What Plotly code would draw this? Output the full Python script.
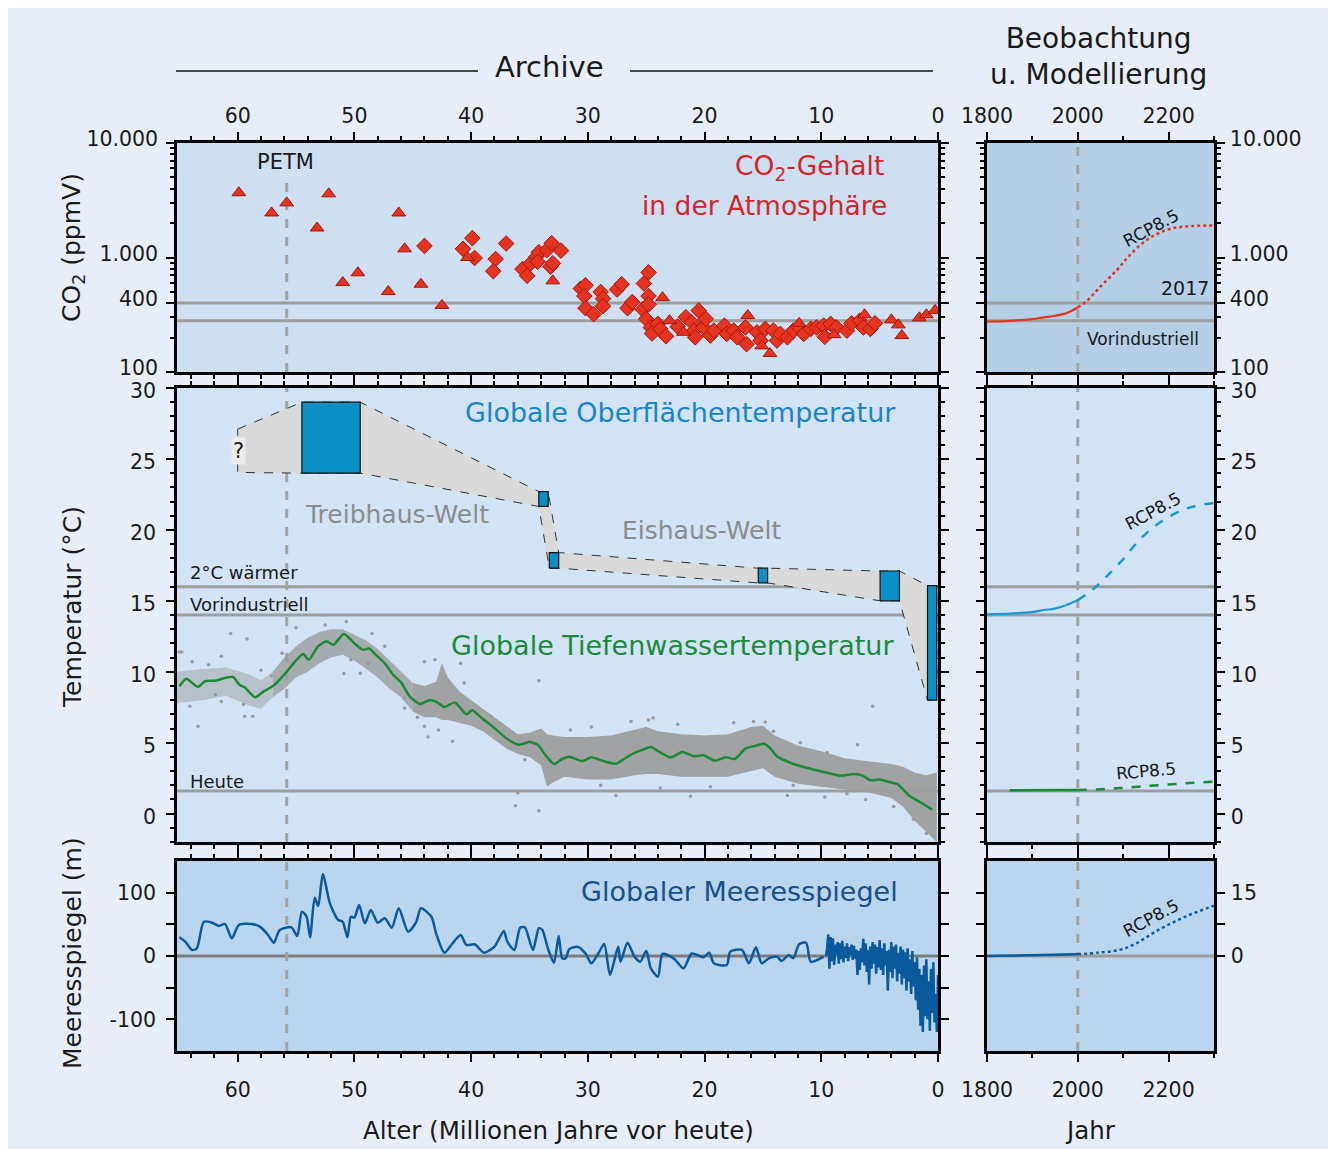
import plotly.graph_objects as go

# figure is placed by the page with an 8 px body margin
OFF = 8
W, H = 1322, 1141
FONT = "DejaVu Sans"


def px(x):
    return (x - OFF) / W


def py(y):
    return 1 - (y - OFF) / H


# ---------------- DATA ----------------
# CO2 proxies (age in Ma, ppmV)
co2_tri_age = [59.9, 57.1, 55.8, 52.2, 53.2, 51.0, 49.7, 47.1, 46.2, 45.7, 44.3, 42.5, 40.3, 33.0,
               23.6, 23.0, 21.8, 16.3, 15.1, 14.4, 11.9, 8.9, 6.3, 4.0, 3.4, 3.1, 1.6, 1.0, 0.25]
co2_tri_ppm = [3680, 2450, 3000, 3600, 1810, 604, 735, 504, 2450, 1190, 584, 381, 1000, 625,
               446, 281, 222, 311, 169, 145, 266, 212, 316, 285, 258, 208, 297, 316, 345]
co2_dia_age = [44.0, 40.7, 39.9, 39.7, 37.9, 38.1, 37.0, 35.6, 35.2, 34.9, 34.4, 34.2, 33.5, 33.1,
               33.2, 33.0, 32.3, 34.3, 30.6, 30.2, 30.3, 30.2, 29.5, 28.9, 28.7, 28.7, 27.5, 27.1,
               26.6, 26.2, 25.3, 25.2, 24.8, 24.8, 24.8, 25.0, 24.6, 24.5, 24.0, 23.8, 23.3, 22.3,
               21.6, 21.1, 20.5, 20.9, 20.8, 20.1, 19.9, 19.5, 19.2, 18.3, 18.1, 17.5, 17.2, 16.5,
               16.4, 15.5, 15.2, 14.8, 14.1, 13.8, 13.5, 12.9, 12.4, 11.9, 11.5, 10.9, 10.4, 9.8,
               9.7, 9.2, 8.7, 7.8, 7.4, 6.7, 6.4, 5.8, 5.4]
co2_dia_ppm = [1262, 1190, 1476, 990, 970, 760, 1324, 792, 692, 889, 1016, 1112, 1164, 1334,
               830, 889, 1148, 918, 535, 572, 461, 361, 320, 500, 437, 376, 525, 584,
               361, 408, 352, 593, 741, 461, 389, 291, 245, 217, 263, 238, 205, 249,
               301, 272, 344, 230, 201, 245, 291, 208, 230, 254, 215, 230, 201, 245,
               175, 222, 188, 238, 230, 188, 215, 201, 230, 245, 215, 238, 245, 254,
               203, 263, 245, 230, 266, 281, 245, 238, 266]

# reference levels
co2_levels = [400, 280]          # 2017, pre-industrial
temp_levels = [16.0, 14.0]       # 2 deg warmer, pre-industrial
deep_today = 1.6                 # deep water today
petm_age = 55.8
now_year = 2000

# Surface temperature (boxes and envelope)
box_age_old = [54.5, 34.2, 33.3, 15.4, 4.96, 0.9]
box_age_young = [49.5, 33.4, 32.5, 14.6, 3.3, 0.1]
box_t_low = [24.0, 21.65, 17.3, 16.26, 15.0, 8.0]
box_t_high = [29.0, 22.7, 18.4, 17.3, 17.1, 16.07]
poly_age = [60.0, 54.5, 49.5, 34.2, 33.4, 32.5, 15.4, 14.6, 4.96, 3.3, 0.9, 0.1, 0.1, 0.9,
            3.3, 4.96, 14.6, 15.4, 32.5, 33.3, 34.2, 49.5, 54.5, 60.0, 60.0]
poly_t = [27.1, 29.0, 29.0, 22.7, 22.7, 18.4, 17.3, 17.3, 17.1, 17.1, 16.07, 16.07, 8.0, 8.0,
          15.0, 15.0, 16.26, 16.26, 17.3, 17.3, 21.65, 24.0, 24.0, 24.05, 27.1]

# Deep-water temperature (smoothed curve)
deep_age = [65.0, 64.4, 63.4, 62.8, 61.9, 61.1, 60.4, 59.8, 59.4, 58.5, 57.8, 56.9, 55.9, 55.1,
            54.4, 53.9, 53.1, 52.4, 51.8, 50.9, 50.0, 49.3, 48.7, 48.3, 47.4, 46.7, 46.0, 45.3,
            44.4, 43.6, 43.0, 42.3, 41.4, 40.4, 39.9, 39.1, 38.0, 36.9, 35.9, 35.0, 34.3, 33.6,
            32.9, 32.2, 31.5, 30.5, 29.7, 28.6, 27.6, 26.3, 25.3, 24.6, 23.8, 22.9, 21.9, 20.9,
            20.1, 19.1, 18.2, 17.4, 16.5, 15.6, 14.9, 14.4, 13.8, 12.6, 11.2, 9.8, 8.4, 7.2,
            6.5, 5.8, 5.0, 4.2, 3.5, 2.4, 1.5, 0.5]
deep_t = [8.97, 9.51, 8.93, 9.33, 9.37, 9.56, 9.63, 9.04, 8.9, 8.2, 8.6, 9.04, 9.9, 10.7,
          11.25, 10.85, 11.8, 12.15, 11.9, 12.66, 12.0, 11.56, 11.63, 11.3, 10.6, 9.8, 9.25, 8.3,
          7.73, 7.99, 7.9, 7.52, 7.84, 7.0, 7.28, 6.74, 6.04, 5.26, 4.86, 5.05, 4.86, 4.09,
          3.5, 3.85, 4.0, 3.69, 3.97, 3.69, 3.52, 4.16, 4.51, 4.7, 4.32, 3.97, 4.35, 4.04,
          4.11, 3.73, 3.97, 3.85, 4.58, 4.79, 4.93, 4.63, 4.04, 3.57, 3.22, 2.94, 2.68, 2.8,
          2.7, 2.35, 2.4, 2.23, 2.09, 1.22, 0.8, 0.28]

# Deep-water raw data cloud (upper / lower envelope)
cloud_age = [65.2, 63, 61, 59, 58, 57, 56, 55, 54, 53, 52, 51, 50, 49, 48, 47, 46, 45, 44, 43,
             42.5, 42, 41, 40, 39, 38, 37, 36, 35, 34, 33.5, 33, 32, 30, 28, 26, 25, 24, 22, 20,
             18, 16, 15, 14, 12, 10, 8, 6, 4, 3, 2, 1, 0.1]
cloud_hi = [10.0, 10.2, 10.3, 9.8, 9.4, 10.0, 11.0, 11.8, 12.4, 12.8, 13.0, 13.0, 12.6, 12.2,
            11.6, 10.8, 10.0, 9.2, 9.0, 9.3, 10.6, 9.6, 8.6, 8.0, 7.4, 6.8, 6.2, 5.6, 5.7, 6.0,
            5.6, 5.5, 5.4, 5.4, 5.5, 5.9, 6.1, 5.8, 5.6, 5.5, 5.6, 6.1, 6.2, 5.5, 4.8, 4.4, 3.9,
            3.7, 3.5, 3.3, 2.9, 2.7, 2.9]
cloud_lo = [7.8, 8.0, 8.3, 7.6, 7.4, 8.2, 8.8, 9.6, 10.0, 10.6, 11.0, 11.2, 10.8, 10.2,
            9.6, 8.8, 8.2, 7.2, 6.8, 6.8, 6.6, 6.6, 6.4, 6.2, 5.8, 5.2, 4.6, 4.2, 4.0, 3.4,
            1.9, 2.2, 2.6, 2.4, 2.4, 2.7, 2.8, 2.8, 2.6, 2.6, 2.6, 3.0, 3.2, 2.6, 2.1, 1.9, 1.7,
            1.5, 1.1, 0.5, -0.5, -1.3, -2.0]
cloud_split = [57, 45]  # sparse / medium / dense segments
dots_age = [60.6, 59.2, 63.4, 61.4, 64.8, 59.4, 58.7, 50.9, 49.5, 45.7, 44.6, 43.7, 41.6, 34.2,
            36.0, 36.2, 34.2, 40.9, 43.1, 44.0, 24.4, 14.8, 5.6, 6.9, 27.6, 21.2, 12.9, 9.7, 6.2,
            65.0, 63.9, 62.5, 61.4, 64.1, 61.9, 59.5, 58.0, 57.1, 56.2, 55.0, 52.5, 50.7, 48.5,
            50.3, 48.8, 47.4, 45.7, 44.0, 42.8, 40.6, 38.3, 37.2, 35.4,
            31.5, 29.7, 26.3, 24.8, 22.3, 17.5, 15.8, 14.1, 11.8, 9.5, 28.9, 23.8, 19.5, 12.4,
            7.8, 3.8, 2.1, 1.0]
dots_t = [12.7, 12.3, 6.15, 11.1, 11.4, 6.86, 6.86, 9.87, 9.9, 8.15, 6.8, 5.4, 5.1, 9.37,
          1.46, 0.56, 0.2, 10.6, 10.85, 10.7, 6.74, 6.46, 7.56, 4.86, 1.27, 1.22, 1.27, 1.18, 0.99,
          11.4, 10.7, 10.5, 7.9, 7.56, 8.4, 7.7, 10.1, 9.7, 11.3, 13.1, 13.3, 13.55, 12.7,
          10.85, 10.6, 11.8, 7.45, 6.15, 5.9, 9.2, 6.86, 5.9, 3.8,
          5.9, 6.1, 6.5, 6.6, 6.3, 6.4, 6.5, 5.8, 5.0, 4.3, 2.0, 1.8, 1.9, 2.0,
          1.4, 0.5, -0.4, -1.4]

# Sea level (m)
sea_age = [65.0, 64.5, 63.9, 63.5, 62.9, 62.2, 61.6, 61.1, 60.5, 59.9, 58.8, 58.1, 57.4, 56.9,
           56.4, 55.4, 54.9, 54.5, 54.1, 53.8, 53.4, 53.1, 52.7, 52.1, 51.4, 51.0, 50.6, 50.3,
           50.0, 49.6, 49.1, 48.6, 48.0, 47.4, 46.8, 46.2, 45.4, 44.7, 44.3, 43.4, 43.0, 42.3,
           41.7, 40.9, 40.4, 39.7, 38.9, 38.0, 37.2, 36.9, 36.3, 35.8, 35.4, 34.7, 34.2, 33.9,
           33.4, 32.9, 32.5, 32.2, 31.9, 31.6, 30.9, 30.2, 29.7, 29.1, 28.6, 28.1, 27.4, 27.2,
           26.6, 26.0, 25.5, 25.0, 24.6, 24.0, 23.6, 22.6, 21.8, 21.1, 20.1, 19.6, 19.2, 18.1,
           17.8, 16.8, 16.2, 15.6, 15.1, 14.5, 13.8, 13.4, 12.8, 12.4, 11.9, 11.3, 10.9, 9.8,
           9.6, 9.5, 9.4, 9.3, 9.2, 9.1, 9.0, 8.9, 8.8, 8.7, 8.6, 8.5, 8.4, 8.3, 8.2, 8.1, 8.0,
           7.9, 7.8, 7.7, 7.6, 7.5, 7.4, 7.3, 7.2, 7.1, 7.0, 6.9, 6.8, 6.7, 6.6, 6.5, 6.4, 6.3,
           6.2, 6.1, 6.0, 5.9, 5.8, 5.7, 5.6, 5.5, 5.4, 5.3, 5.2, 5.1, 5.0, 4.9, 4.8, 4.7, 4.6,
           4.5, 4.4, 4.3, 4.2, 4.1, 4.0, 3.9, 3.8, 3.7, 3.6, 3.5, 3.4, 3.3, 3.2, 3.1, 3.0, 2.9,
           2.8, 2.7, 2.6, 2.5, 2.4, 2.3, 2.2, 2.1, 2.0, 1.9, 1.8, 1.7, 1.6, 1.5, 1.4, 1.3, 1.2,
           1.1, 1.0, 0.9, 0.8, 0.7, 0.6, 0.5, 0.4, 0.3, 0.2, 0.1, 0.0]
sea_m = [29.5, 22.6, 9.5, 12.1, 54.2, 52.6, 47.4, 50.6, 28.0, 49.0, 50.6, 46.3, 33.2, 21.0,
         41.0, 45.3, 31.6, 70.0, 62.0, 29.5, 92.0, 79.0, 129.5, 83.0, 57.0, 54.0, 29.5, 62.0,
         60.5, 80.5, 51.6, 72.7, 52.6, 59.5, 44.7, 75.3, 38.4, 54.0, 75.3, 62.0, 35.8, 5.3,
         17.4, 33.0, 17.4, 18.5, 5.3, 14.7, 39.5, 22.6, 9.5, 44.7, 45.3, 9.5, 43.8, 41.0,
         10.6, -10.6, 31.6, -3.7, -3.7, 10.6, 14.7, 4.0, -11.6, 4.0, 19.0, -30.0, 14.7, -9.0,
         21.0, -1.0, -9.0, 8.4, -19.5, -32.7, 3.2, -4.7, -19.5, 4.0, -2.0, 5.3, -11.6, -14.2,
         6.8, 9.5, -11.6, 13.7, -11.6, -3.7, -1.0, -7.9, 1.6, -3.7, 18.5, 21.0, -9.0, -1.0,
         0, 12, 34, -20, 30, -8, 28, -14, 18, 2, 22, -12, 20, -5, 24, -10, 15,
         -3, 20, -8, 14, 2, 18, -6, 16, -4, 10, -30, 8, -22, 12, -10, 27, -15,
         20, -25, 10, -45, 15, -20, 22, -12, 18, -28, 14, -18, 25, -22, 12, -30, 20,
         -15, 8, -55, 10, -25, 22, -35, 15, -20, 18, -40, 5, -28, 15, -45, 10, -35,
         6, -55, 12, -40, -5, -60, 8, -48, -10, -70, -2, -85, -20, -110, -30, -120, -15,
         -95, -5, -100, -40, -118, -20, -90, -10, -105, -60, -120, -30]
sea_noisy_from = 9.7  # younger than this: high-resolution record

# Observation / projection (year)
co2_hist_year = [1800, 1850, 1900, 1925, 1950, 1970, 1985, 2000]
co2_hist_ppm = [276, 280, 290, 300, 310, 322, 340, 368]
co2_proj_year = [2000, 2017, 2049, 2086, 2115, 2152, 2196, 2240, 2300]
co2_proj_ppm = [368, 408, 553, 777, 1052, 1426, 1745, 1870, 1900]

ts_hist_year = [1800, 1850, 1900, 1925, 1950, 1975, 2000]
ts_hist_t = [14.05, 14.1, 14.2, 14.35, 14.45, 14.7, 15.05]
ts_proj_year = [2000, 2033, 2063, 2099, 2136, 2180, 2239, 2300]
ts_proj_t = [15.05, 15.8, 16.7, 17.9, 19.3, 20.5, 21.5, 21.9]

td_hist_year = [1850, 1925, 2000]
td_hist_t = [1.64, 1.65, 1.66]
td_proj_year = [2000, 2070, 2140, 2220, 2300]
td_proj_t = [1.66, 1.75, 1.92, 2.1, 2.25]

sl_hist_year = [1800, 1900, 2000]
sl_hist_m = [0.0, 0.15, 0.4]
sl_proj_year = [2000, 2046, 2090, 2127, 2178, 2239, 2300]
sl_proj_m = [0.4, 0.8, 1.4, 2.9, 6.2, 9.4, 11.9]

# tick labels
age_ticks = [0, 10, 20, 30, 40, 50, 60]
year_ticks = [1800, 2000, 2200]
co2_ticks = [100, 400, 1000, 10000]
co2_ticktext = ["100", "400", "1.000", "10.000"]
temp_ticks = [0, 5, 10, 15, 20, 25, 30]
sea_ticks = [-100, 0, 100]
sea_ticktext = ["-100", "0", "100"]
sea_minor = [-50, 50]
sea_r_ticks = [0, 15]
sea_r_minor = [7.5]

# ---------------- COLORS ----------------
RED = "#e5331f"
RED_EDGE = "#a3170f"
GREEN = "#1b8a34"
BLUE_S = "#0a90c6"
SEA = "#0b5a9e"
GREYL = "#9d9d9d"

fig = go.Figure()

# CO2 left
fig.add_trace(go.Scatter(x=co2_dia_age, y=co2_dia_ppm, mode="markers", xaxis="x", yaxis="y",
                         marker=dict(symbol="diamond", size=12, color=RED,
                                     line=dict(color=RED_EDGE, width=1))))
fig.add_trace(go.Scatter(x=co2_tri_age, y=co2_tri_ppm, mode="markers", xaxis="x", yaxis="y",
                         marker=dict(symbol="triangle-up", size=12, color=RED,
                                     line=dict(color=RED_EDGE, width=1))))

# deep water cloud (3 density segments)
segs = [(100, cloud_split[0], "rgba(150,150,150,0.45)"),
        (cloud_split[0], cloud_split[1], "rgba(150,150,150,0.72)"),
        (cloud_split[1], -1, "rgba(158,158,158,0.95)")]
for a_hi, a_lo, col in segs:
    idx = [i for i, a in enumerate(cloud_age) if a_lo <= a <= a_hi]
    xa = [cloud_age[i] for i in idx]
    fig.add_trace(go.Scatter(x=xa, y=[cloud_hi[i] for i in idx], mode="lines", line=dict(width=0),
                             xaxis="x2", yaxis="y2", hoverinfo="skip"))
    fig.add_trace(go.Scatter(x=xa, y=[cloud_lo[i] for i in idx], mode="lines", line=dict(width=0),
                             fill="tonexty", fillcolor=col, xaxis="x2", yaxis="y2", hoverinfo="skip"))
fig.add_trace(go.Scatter(x=dots_age, y=dots_t, mode="markers", xaxis="x2", yaxis="y2",
                         marker=dict(size=3.5, color="#9a9a9a")))
fig.add_trace(go.Scatter(x=deep_age, y=deep_t, mode="lines", xaxis="x2", yaxis="y2",
                         line=dict(color=GREEN, width=2.5, shape="spline", smoothing=0.6)))

# surface temperature envelope + boxes
fig.add_trace(go.Scatter(x=poly_age, y=poly_t, mode="lines", fill="toself", fillcolor="#d9d9d9",
                         line=dict(color="#333333", width=1, dash="dash"), xaxis="x2", yaxis="y2"))
bx, byy = [], []
for a0, a1, t0, t1 in zip(box_age_old, box_age_young, box_t_low, box_t_high):
    bx += [a0, a1, a1, a0, a0, None]
    byy += [t0, t0, t1, t1, t0, None]
fig.add_trace(go.Scatter(x=bx, y=byy, mode="lines", fill="toself", fillcolor=BLUE_S,
                         line=dict(color="#111111", width=1.2), xaxis="x2", yaxis="y2"))

# sea level left: smooth older part + high-resolution younger part
i_old = [i for i, a in enumerate(sea_age) if a >= sea_noisy_from]
i_new = [i for i, a in enumerate(sea_age) if a <= sea_noisy_from]
fig.add_trace(go.Scatter(x=[sea_age[i] for i in i_old], y=[sea_m[i] for i in i_old], mode="lines",
                         xaxis="x3", yaxis="y3",
                         line=dict(color=SEA, width=2.5, shape="spline", smoothing=0.7)))
fig.add_trace(go.Scatter(x=[sea_age[i] for i in i_new], y=[sea_m[i] for i in i_new], mode="lines",
                         xaxis="x3", yaxis="y3", line=dict(color=SEA, width=2.5)))

# right panels
fig.add_trace(go.Scatter(x=co2_hist_year, y=co2_hist_ppm, mode="lines", xaxis="x4", yaxis="y4",
                         line=dict(color=RED, width=2.2, shape="spline")))
fig.add_trace(go.Scatter(x=co2_proj_year, y=co2_proj_ppm, mode="lines", xaxis="x4", yaxis="y4",
                         line=dict(color=RED, width=2.5, dash="dot", shape="spline")))
fig.add_trace(go.Scatter(x=ts_hist_year, y=ts_hist_t, mode="lines", xaxis="x5", yaxis="y5",
                         line=dict(color="#1a9ad2", width=2.2, shape="spline")))
fig.add_trace(go.Scatter(x=ts_proj_year, y=ts_proj_t, mode="lines", xaxis="x5", yaxis="y5",
                         line=dict(color="#1a9ad2", width=2.5, dash="dash", shape="spline")))
fig.add_trace(go.Scatter(x=td_hist_year, y=td_hist_t, mode="lines", xaxis="x5", yaxis="y5",
                         line=dict(color=GREEN, width=2.5)))
fig.add_trace(go.Scatter(x=td_proj_year, y=td_proj_t, mode="lines", xaxis="x5", yaxis="y5",
                         line=dict(color=GREEN, width=2.5, dash="dash", shape="spline")))
fig.add_trace(go.Scatter(x=sl_hist_year, y=sl_hist_m, mode="lines", xaxis="x6", yaxis="y6",
                         line=dict(color=SEA, width=2.5)))
fig.add_trace(go.Scatter(x=sl_proj_year, y=sl_proj_m, mode="lines", xaxis="x6", yaxis="y6",
                         line=dict(color=SEA, width=2.5, dash="dot", shape="spline")))

# ---------------- AXES ----------------
LX = [px(177), px(938)]
RX = [px(987), px(1214)]
Y_CO2 = [py(372), py(143)]
Y_T = [py(842), py(388)]
Y_S = [py(1051), py(861)]

tickfont = dict(size=20.5, color="#1a1a1a", family=FONT)
mtick = dict(ticklen=4, tickwidth=1.5, ticks="outside", tickcolor="black")
common = dict(showline=True, linecolor="black", linewidth=2.5, mirror="allticks", ticks="outside",
              ticklen=8, tickwidth=2, tickcolor="black", showgrid=False, zeroline=False,
              tickfont=tickfont, fixedrange=True, automargin=False)


def xleft(anchor, side, labels, standoff):
    return dict(common, domain=LX, anchor=anchor, range=[65.2, 0], side=side,
                showticklabels=labels, tickmode="array", tickvals=age_ticks,
                ticklabelstandoff=standoff,
                minor=dict(mtick, tickmode="linear", tick0=0, dtick=2))


def xright(anchor, side, labels, standoff):
    return dict(common, domain=RX, anchor=anchor, range=[1800, 2300], side=side,
                showticklabels=labels, tickmode="array", tickvals=year_ticks,
                ticklabelstandoff=standoff,
                minor=dict(mtick, tickmode="linear", tick0=1800, dtick=100))


co2_minor = [v * m for m in (100, 1000) for v in range(2, 10)]

fig.update_layout(
    xaxis=xleft("y", "top", True, 1),
    xaxis2=xleft("y2", "bottom", False, 0),
    xaxis3=xleft("y3", "bottom", True, 11),
    xaxis4=xright("y4", "top", True, 1),
    xaxis5=xright("y5", "bottom", False, 0),
    xaxis6=xright("y6", "bottom", True, 11),
    yaxis=dict(common, domain=Y_CO2, anchor="x", type="log", range=[2, 4], tickmode="array",
               tickvals=co2_ticks, ticktext=co2_ticktext, ticklabelstandoff=4, ticklabelshift=-4,
               minor=dict(mtick, tickvals=co2_minor)),
    yaxis2=dict(common, domain=Y_T, anchor="x2", range=[-2, 30], tickmode="array",
                tickvals=temp_ticks, ticklabelstandoff=6, ticklabelshift=3,
                minor=dict(mtick, tickmode="linear", tick0=0, dtick=1)),
    yaxis3=dict(common, domain=Y_S, anchor="x3", range=[-150, 150], tickmode="array",
                tickvals=sea_ticks, ticktext=sea_ticktext, ticklabelstandoff=6,
                minor=dict(mtick, tickvals=sea_minor, ticklen=8, tickwidth=2)),
    yaxis4=dict(common, domain=Y_CO2, anchor="x4", side="right", type="log", range=[2, 4],
                tickmode="array", tickvals=co2_ticks, ticktext=co2_ticktext, ticklabelstandoff=1,
                ticklabelshift=-4, minor=dict(mtick, tickvals=co2_minor)),
    yaxis5=dict(common, domain=Y_T, anchor="x5", side="right", range=[-2, 30], tickmode="array",
                tickvals=temp_ticks, ticklabelstandoff=2, ticklabelshift=3,
                minor=dict(mtick, tickmode="linear", tick0=0, dtick=1)),
    yaxis6=dict(common, domain=Y_S, anchor="x6", side="right", range=[-22.5, 22.5],
                tickmode="array", tickvals=sea_r_ticks, ticklabelstandoff=2,
                minor=dict(mtick, tickvals=sea_r_minor, ticklen=8, tickwidth=2)),
)

# ---------------- SHAPES ----------------
shapes = []
panel_bg = [("x", "y", "#cddff0"), ("x2", "y2", "#d1e3f5"), ("x3", "y3", "#b9d6ee"),
            ("x4", "y4", "#b4cfe6"), ("x5", "y5", "#d1e3f5"), ("x6", "y6", "#b9d6ee")]
for xa, ya, col in panel_bg:
    shapes.append(dict(type="rect", xref=xa + " domain", yref=ya + " domain", x0=0, x1=1, y0=0, y1=1,
                       fillcolor=col, line=dict(width=0), layer="below"))


def hline(xa, ya, val, col=GREYL, w=3):
    shapes.append(dict(type="line", xref=xa + " domain", yref=ya, x0=0, x1=1, y0=val, y1=val,
                       line=dict(color=col, width=w), layer="below"))


for v in co2_levels:
    hline("x", "y", v)
    hline("x4", "y4", v)
for v in temp_levels + [deep_today]:
    hline("x2", "y2", v)
    hline("x5", "y5", v)
hline("x3", "y3", 0, "#7d7d7d", 3)
hline("x6", "y6", 0, "#9a9a9a", 3)

vd = dict(color="#a3a3a3", width=3, dash="dash")
shapes.append(dict(type="line", xref="x", yref="y domain", x0=petm_age, x1=petm_age, y0=0, y1=0.86,
                   line=vd, layer="below"))
for xa, ya in [("x2", "y2"), ("x3", "y3")]:
    shapes.append(dict(type="line", xref=xa, yref=ya + " domain", x0=petm_age, x1=petm_age, y0=0, y1=1,
                       line=vd, layer="below"))
for xa, ya in [("x4", "y4"), ("x5", "y5"), ("x6", "y6")]:
    shapes.append(dict(type="line", xref=xa, yref=ya + " domain", x0=now_year, x1=now_year, y0=0, y1=1,
                       line=vd, layer="below"))
# header rules
for a, b in [(176, 478), (630, 933)]:
    shapes.append(dict(type="line", xref="paper", yref="paper", x0=px(a), x1=px(b), y0=py(71), y1=py(71),
                       line=dict(color="#111111", width=1.5)))
fig.update_layout(shapes=shapes)

# ---------------- ANNOTATIONS ----------------
ann = []


def text(x, y, s, size=20, color="#1a1a1a", xanchor="center", angle=0, bg=None):
    d = dict(x=px(x), y=py(y), xref="paper", yref="paper", text=s, showarrow=False,
             font=dict(size=size, color=color, family=FONT), xanchor=xanchor, yanchor="middle",
             textangle=angle)
    if bg:
        d["bgcolor"] = bg
    ann.append(d)


text(285, 162, "PETM", 21)
text(886, 167, "CO<sub>2</sub>-Gehalt", 26.5, "#d3262c", "right")
text(889, 205, "in der Atmosphäre", 26.5, "#d3262c", "right")
text(680, 412, "Globale Oberflächentemperatur", 27, "#1a85c6")
text(397, 514, "Treibhaus-Welt", 25, "#8c8c8c")
text(701, 531, "Eishaus-Welt", 25, "#8c8c8c")
text(188, 573, "2°C wärmer", 18, xanchor="left")
text(188, 604, "Vorindustriell", 18, xanchor="left")
text(188, 781, "Heute", 18, xanchor="left")
text(672, 645, "Globale Tiefenwassertemperatur", 27, "#1c8a3a")
text(739, 891, "Globaler Meeresspiegel", 27, "#1b4f86")
text(238, 451, "?", 21, bg="#ececec")
text(1151, 228, "RCP8.5", 17, angle=-28)
text(1185, 288, "2017", 19)
text(1143, 339, "Vorindustriell", 17)
text(1153, 511, "RCP8.5", 17, angle=-28)
text(1146, 771, "RCP8.5", 17, angle=-5)
text(1151, 918, "RCP8.5", 17, angle=-28)
text(549, 67, "Archive", 29)
text(1098, 56, "Beobachtung<br>u. Modellierung", 28)
text(558, 1130, "Alter (Millionen Jahre vor heute)", 24.5)
text(1090, 1130, "Jahr", 24.5)
text(73, 248, "CO<sub>2</sub> (ppmV)", 25, angle=-90)
text(72, 607, "Temperatur (°C)", 25, angle=-90)
text(72, 953, "Meeresspiegel (m)", 25, angle=-90)

fig.update_layout(
    annotations=ann,
    width=W, height=H,
    margin=dict(l=0, r=0, t=0, b=0, autoexpand=False),
    paper_bgcolor="#e7eef8",
    plot_bgcolor="rgba(0,0,0,0)",
    showlegend=False,
    font=dict(family=FONT, color="#1a1a1a"),
)

fig.write_html("out.html")
